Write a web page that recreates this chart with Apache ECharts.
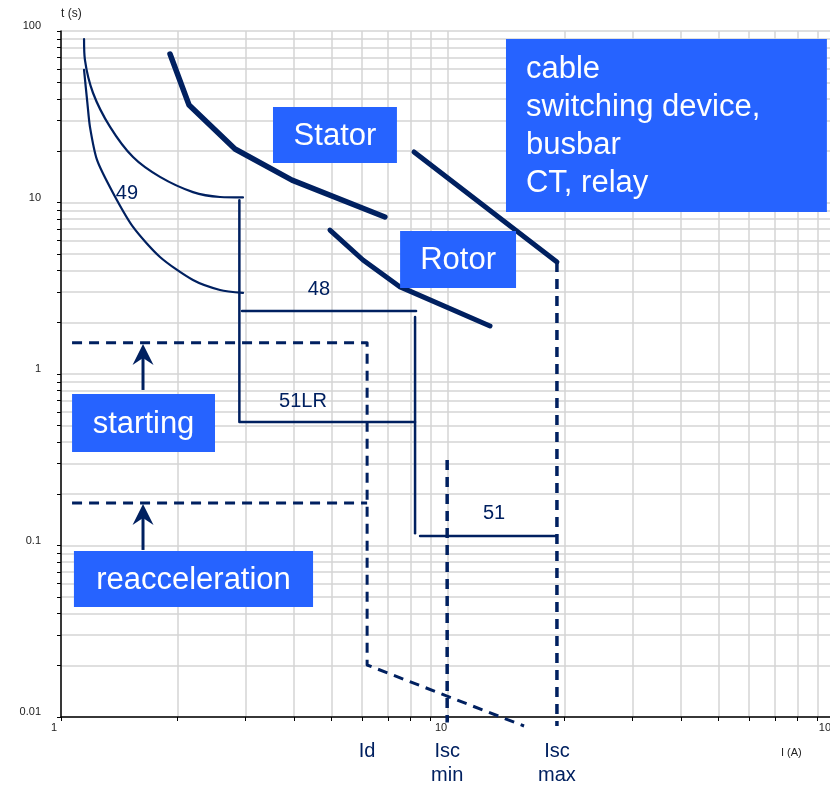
<!DOCTYPE html>
<html><head><meta charset="utf-8">
<script src="https://cdn.jsdelivr.net/npm/echarts@6/dist/echarts.min.js"></script>
<style>html,body{margin:0;padding:0;background:#fff}#chart{width:830px;height:787px}</style>
</head><body><div id="chart"></div>
<script>
// ---------- tick values ----------
const xLabelTicks = [1, 10, 100];
const xGridTicks = [1, 2, 3, 4, 5, 6, 7, 8, 9, 10, 20, 30, 40, 50, 60, 70, 80, 90, 100];
const yLabelTicks = [0.01, 0.1, 1, 10, 100];
const yGridTicks = [0.01, 0.02, 0.03, 0.04, 0.05, 0.06, 0.07, 0.08, 0.09,
  0.1, 0.2, 0.3, 0.4, 0.5, 0.6, 0.7, 0.8, 0.9,
  1, 2, 3, 4, 5, 6, 7, 8, 9,
  10, 20, 30, 40, 50, 60, 70, 80, 90, 100];

// ---------- curves [I, t] ----------
const curve49Upper = [[1.147, 89.8], [1.153, 67.8], [1.210, 43.5], [1.339, 27.6], [1.535, 18.4], [1.802, 14.1], [2.193, 11.5], [2.576, 10.77], [2.953, 10.7]];
const curve49Lower = [[1.147, 59.3], [1.170, 38.0], [1.188, 27.6], [1.239, 17.7], [1.363, 11.36], [1.535, 7.20], [1.802, 4.81], [2.193, 3.53], [2.576, 3.09], [2.953, 2.97]];
const relay49Step = [[2.89, 10.3], [2.89, 0.525], [8.22, 0.525]];
const relay48 = [[2.937, 2.33], [8.27, 2.33]];
const relay48Drop = [[8.22, 2.15], [8.22, 0.118]];
const relay51 = [[8.47, 0.1136], [19.12, 0.1136]];
const statorCurve = [[1.913, 73.4], [2.142, 37.0], [2.816, 20.5], [3.953, 13.5], [6.87, 8.23]];
const rotorCurve = [[4.955, 6.91], [6.03, 4.62], [7.52, 3.22], [12.84, 1.905]];
const cableCurve = [[8.17, 19.7], [19.12, 4.50]];
const startingCurve = [[1.068, 1.52], [6.18, 1.52], [6.18, 0.0201], [15.72, 0.00886]];
const reaccelerationLine = [[1.068, 0.177], [6.18, 0.177]];
const iscMinLine = [[9.95, 0.315], [9.95, 0.0093]];
const iscMaxLine = [[19.12, 4.5], [19.12, 0.00886]];

// ---------- annotations ----------
const curveLabels = ['49', '48', '51LR', '51'];
const curveLabelAnchors = [[1.48, 11.36], [4.64, 3.09], [4.22, 0.687], [13.15, 0.1527]];
const currentLabels = ['Id', 'Isc\nmin', 'Isc\nmax'];
const currentLabelX = [6.18, 9.95, 19.12];
const boxTexts = ['cable\nswitching device,\nbusbar\nCT, relay', 'Stator', 'Rotor', 'starting', 'reacceleration'];
const boxAlign = ['left', 'center', 'center', 'center', 'center'];
const boxCorners = [[14.12, 89.8, 95.3, 8.81], [3.53, 36.0, 7.38, 16.99], [7.52, 6.82, 14.99, 3.17], [1.068, 0.7646, 2.50, 0.351], [1.080, 0.0929, 4.48, 0.0438]];
const arrowAnchors = [[1.629, 0.807, 1.496], [1.629, 0.0942, 0.1746]];

const NAVY = '#002060';
const BLUE = '#2663ff';
const FONT = '"Liberation Sans", Arial, sans-serif';

function lineSeries(data, width, dashed, smooth) {
  return {
    type: 'line', data: data, showSymbol: false, symbol: 'none', clip: false,
    smooth: smooth || false, silent: true, z: 3,
    lineStyle: { color: NAVY, width: width, type: dashed ? [10, 7] : 'solid', cap: dashed ? 'butt' : 'round', join: 'round' }
  };
}

const chart = echarts.init(document.getElementById('chart'), null, { renderer: 'canvas' });
chart.setOption({
  animation: false,
  backgroundColor: '#fff',
  grid: { left: 61, top: 31, width: 774, height: 686, containLabel: false, outerBoundsMode: 'none' },
  xAxis: {
    type: 'log', logBase: 10, min: 1, max: 100,
    axisLine: { show: true, lineStyle: { color: '#000', width: 1.5 } },
    axisTick: { show: true, inside: false, length: 4, customValues: xGridTicks, lineStyle: { color: '#000', width: 1 } },
    axisLabel: { customValues: xLabelTicks, color: '#222', fontSize: 11, fontFamily: FONT, margin: 5, padding: [0, 14, 0, 0], formatter: v => String(v) },
    splitLine: { show: true, lineStyle: { color: '#d4d4d4', width: 1.5 } },
    minorTick: { show: false }
  },
  yAxis: {
    type: 'log', logBase: 10, min: 0.01, max: 100,
    name: 't (s)', nameLocation: 'end', nameGap: 17,
    nameTextStyle: { align: 'left', verticalAlign: 'middle', color: '#222', fontSize: 12, fontFamily: FONT },
    axisLine: { show: true, lineStyle: { color: '#000', width: 1.5 } },
    axisTick: { show: true, inside: false, length: 4, customValues: yGridTicks, lineStyle: { color: '#000', width: 1 } },
    axisLabel: { customValues: yLabelTicks, color: '#222', fontSize: 11, fontFamily: FONT, margin: 20, verticalAlign: 'bottom', lineHeight: 10, formatter: v => String(v) },
    splitLine: { show: true, lineStyle: { color: '#d4d4d4', width: 1.5 } }
  },
  graphic: [
    { type: 'text', left: 781, top: 747, style: { text: 'I (A)', fill: '#222', font: '11px ' + FONT } }
  ],
  series: [
    lineSeries(curve49Upper, 2.2, false, 0.3),
    lineSeries(curve49Lower, 2.2, false, 0.25),
    lineSeries(relay49Step, 2.5),
    lineSeries(relay48, 2.5),
    lineSeries(relay48Drop, 2.5),
    lineSeries(relay51, 2.5),
    lineSeries(statorCurve, 5.5),
    lineSeries(rotorCurve, 5),
    lineSeries(cableCurve, 5),
    lineSeries(startingCurve, 3, true),
    lineSeries(reaccelerationLine, 3, true),
    lineSeries(iscMinLine, 3.5, true),
    lineSeries(iscMaxLine, 3.5, true),
    {
      type: 'custom', silent: true, z: 5, clip: false,
      data: boxCorners,
      renderItem: function (params, api) {
        const i = params.dataIndex;
        const p0 = api.coord([api.value(0), api.value(1)]);
        const p1 = api.coord([api.value(2), api.value(3)]);
        const left = boxAlign[i] === 'left';
        return {
          type: 'group', children: [
            { type: 'rect', shape: { x: p0[0], y: p0[1], width: p1[0] - p0[0], height: p1[1] - p0[1] }, style: { fill: BLUE } },
            { type: 'text', x: left ? p0[0] + 20 : (p0[0] + p1[0]) / 2, y: (p0[1] + p1[1]) / 2 + 1,
              style: { text: boxTexts[i], fill: '#fff', font: '31px ' + FONT, align: left ? 'left' : 'center', verticalAlign: 'middle', lineHeight: 38 } }
          ]
        };
      }
    },
    {
      type: 'custom', silent: true, z: 6, clip: false,
      data: arrowAnchors,
      renderItem: function (params, api) {
        const pb = api.coord([api.value(0), api.value(1)]);
        const pt = api.coord([api.value(0), api.value(2)]);
        const x = pt[0], y = pt[1];
        return {
          type: 'group', children: [
            { type: 'line', shape: { x1: pb[0], y1: pb[1], x2: x, y2: y + 12 }, style: { stroke: NAVY, lineWidth: 3 } },
            { type: 'polygon', shape: { points: [[x, y], [x + 10.5, y + 21], [x, y + 14], [x - 10.5, y + 21]] }, style: { fill: NAVY } }
          ]
        };
      }
    },
    {
      type: 'custom', silent: true, z: 6, clip: false,
      data: curveLabelAnchors,
      renderItem: function (params, api) {
        const p = api.coord([api.value(0), api.value(1)]);
        return { type: 'text', x: p[0], y: p[1], style: { text: curveLabels[params.dataIndex], fill: NAVY, font: '20px ' + FONT, align: 'center', verticalAlign: 'middle' } };
      }
    },
    {
      type: 'custom', silent: true, z: 6, clip: false,
      data: currentLabelX.map(x => [x, 0.01]),
      renderItem: function (params, api) {
        const p = api.coord([api.value(0), api.value(1)]);
        return { type: 'text', x: p[0], y: p[1] + 22, style: { text: currentLabels[params.dataIndex], fill: NAVY, font: '20px ' + FONT, align: 'center', verticalAlign: 'top', lineHeight: 24 } };
      }
    }
  ]
});
</script></body></html>
